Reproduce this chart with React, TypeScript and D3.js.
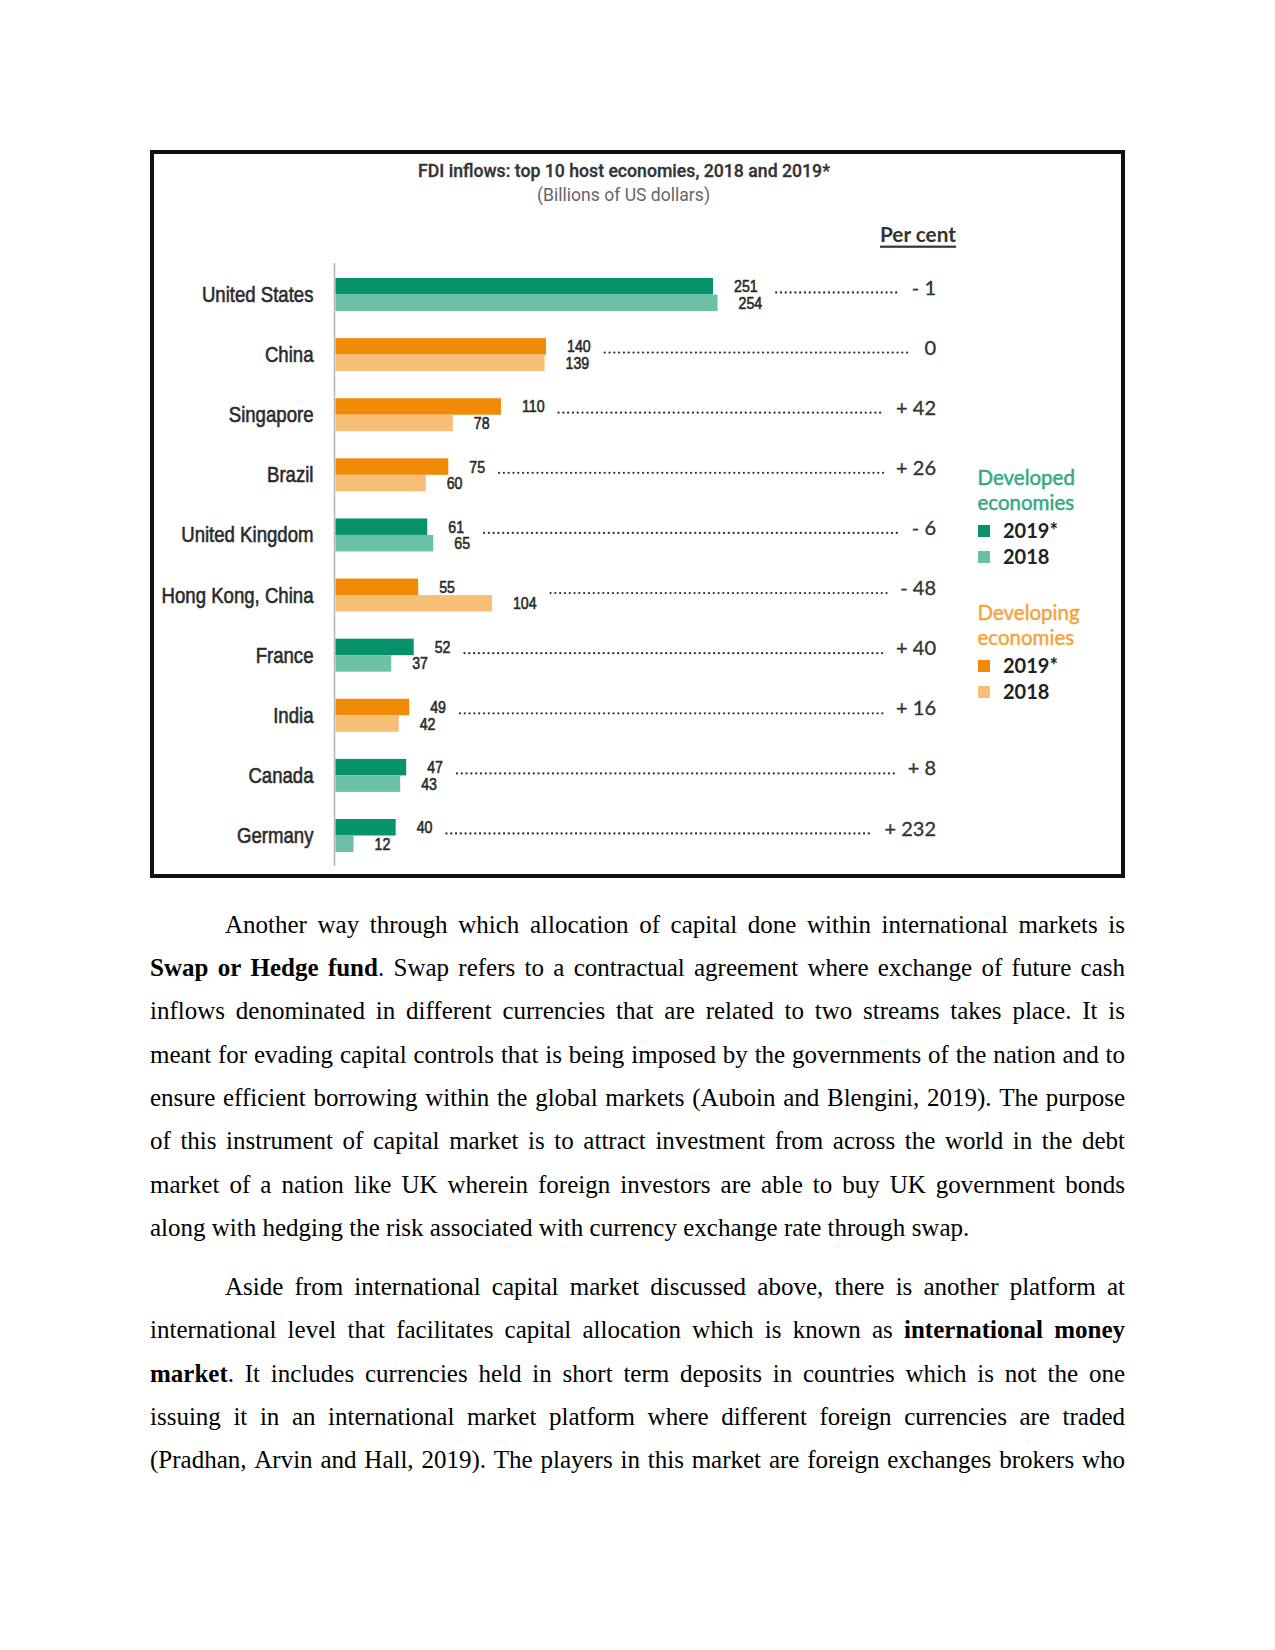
import React, { useEffect, useRef } from "react";
import * as d3 from "d3";

// ---------- data ----------
const countries = [
  "United States",
  "China",
  "Singapore",
  "Brazil",
  "United Kingdom",
  "Hong Kong, China",
  "France",
  "India",
  "Canada",
  "Germany",
];
const economyGroup = [
  "developed",
  "developing",
  "developing",
  "developing",
  "developed",
  "developing",
  "developed",
  "developing",
  "developed",
  "developed",
];
const fdi2019 = [251, 140, 110, 75, 61, 55, 52, 49, 47, 40];
const fdi2018 = [254, 139, 78, 60, 65, 104, 37, 42, 43, 12];
const pctChange = [-1, 0, 42, 26, -6, -48, 40, 16, 8, 232];

const chartTitle = "FDI inflows: top 10 host economies, 2018 and 2019*";
const chartSubtitle = "(Billions of US dollars)";
const pctHeader = "Per cent";

const legendGroups = ["developed", "developing"];
const legendTitles = [
  ["Developed", "economies"],
  ["Developing", "economies"],
];
const legendYears = ["2019*", "2018"];

const paragraph1 = [
  "Another way through which allocation of capital done within international markets is",
  "**Swap or Hedge fund**. Swap refers to a contractual agreement where exchange of future cash",
  "inflows denominated in different currencies that are related to two streams takes place. It is",
  "meant for evading capital controls that is being imposed by the governments of the nation and to",
  "ensure efficient borrowing within the global markets (Auboin and Blengini, 2019). The purpose",
  "of this instrument of capital market is to attract investment from across the world in the debt",
  "market of a nation like UK wherein foreign investors are able to buy UK government bonds",
  "along with hedging the risk associated with currency exchange rate through swap.",
];
const paragraph2 = [
  "Aside from international capital market discussed above, there is another platform at",
  "international level that facilitates capital allocation which is known as **international money**",
  "**market**. It includes currencies held in short term deposits in countries which is not the one",
  "issuing it in an international market platform where different foreign currencies are traded",
  "(Pradhan, Arvin and Hall, 2019). The players in this market are foreign exchanges brokers who",
];

// ---------- styles ----------
const colors: Record<string, string[]> = {
  developed: ["#08926b", "#6cc0a6"],
  developing: ["#f18b07", "#f7bf75"],
};
const legendTitleColors: Record<string, string> = {
  developed: "#36a883",
  developing: "#f3a53d",
};
const NARROW = "'Liberation Sans', Arial, sans-serif";
const CAL = "Lato, 'Open Sans', sans-serif";
const SERIF = "'Liberation Serif', 'Times New Roman', serif";

type Seg = { t: string; b: boolean };
function parseLine(s: string): Seg[][] {
  const words: Seg[][] = [];
  let cur: Seg[] = [];
  let buf = "";
  let bold = false;
  const flush = () => {
    if (buf) cur.push({ t: buf, b: bold });
    buf = "";
  };
  for (let i = 0; i < s.length; i++) {
    if (s.startsWith("**", i)) {
      flush();
      bold = !bold;
      i += 1;
      continue;
    }
    const ch = s[i];
    if (ch === " ") {
      flush();
      if (cur.length) words.push(cur);
      cur = [];
    } else buf += ch;
  }
  flush();
  if (cur.length) words.push(cur);
  return words;
}

export default function App() {
  const ref = useRef<SVGSVGElement>(null);

  useEffect(() => {
    const svg = d3.select(ref.current as SVGSVGElement);
    svg.selectAll("*").remove();

    svg.append("rect").attr("width", 1275).attr("height", 1650).attr("fill", "#fff");

    // frame
    svg
      .append("rect")
      .attr("x", 152)
      .attr("y", 152)
      .attr("width", 971)
      .attr("height", 724)
      .attr("fill", "none")
      .attr("stroke", "#111")
      .attr("stroke-width", 4);

    // titles
    svg
      .append("text")
      .attr("x", 624)
      .attr("y", 176.5)
      .attr("text-anchor", "middle")
      .attr("font-family", "Roboto, sans-serif")
      .attr("font-weight", 500)
      .attr("font-size", 17.5)
      .attr("fill", "#333")
      .attr("stroke", "#333")
      .attr("stroke-width", 0.3)
      .attr("textLength", 412)
      .attr("lengthAdjust", "spacingAndGlyphs")
      .text(chartTitle);
    svg
      .append("text")
      .attr("x", 623.5)
      .attr("y", 200.5)
      .attr("text-anchor", "middle")
      .attr("font-family", "Roboto, sans-serif")
      .attr("font-size", 17.5)
      .attr("fill", "#666")
      .attr("textLength", 173)
      .attr("lengthAdjust", "spacingAndGlyphs")
      .text(chartSubtitle);

    // Per cent header
    svg
      .append("text")
      .attr("x", 880)
      .attr("y", 242.3)
      .attr("font-family", CAL)
      .attr("font-weight", 700)
      .attr("font-size", 20.5)
      .attr("fill", "#333")
      .attr("textLength", 76)
      .attr("lengthAdjust", "spacingAndGlyphs")
      .text(pctHeader);
    svg
      .append("rect")
      .attr("x", 880)
      .attr("y", 245.6)
      .attr("width", 76)
      .attr("height", 2.2)
      .attr("fill", "#333");

    // scales
    const x = d3.scaleLinear().domain([0, 251]).range([335.5, 713]);
    const y = d3.scalePoint<string>().domain(countries).range([294.5, 835.5]);
    const barH = 16.5;

    const narrowText = (
      g: d3.Selection<any, any, any, any>,
      tx: number,
      ty: number,
      txt: string,
      size: number,
      anchor: string,
      sx: number
    ) => {
      const t = g
        .append("text")
        .attr("transform", `translate(${tx},${ty}) scale(${sx},1)`)
        .attr("text-anchor", anchor)
        .attr("font-family", NARROW)
        .attr("font-size", size)
        .attr("fill", "#2b2b2b")
        .attr("stroke", "#2b2b2b")
        .attr("stroke-width", 0.6)
        .text(txt);
      return (t.node() as SVGTextElement).getComputedTextLength() * sx;
    };

    const chart = svg.append("g");

    // axis line
    chart
      .append("line")
      .attr("x1", 334.5)
      .attr("x2", 334.5)
      .attr("y1", 263)
      .attr("y2", 866)
      .attr("stroke", "#b5b5b5")
      .attr("stroke-width", 1.5);

    const fmtPct = (v: number) => (v > 0 ? `+ ${v}` : v < 0 ? `- ${Math.abs(v)}` : "0");

    countries.forEach((c, i) => {
      const cy = y(c) as number;
      const [c19, c18] = colors[economyGroup[i]];
      chart
        .append("rect")
        .attr("x", x(0))
        .attr("y", cy - barH)
        .attr("width", x(fdi2019[i]) - x(0))
        .attr("height", barH)
        .attr("fill", c19);
      chart
        .append("rect")
        .attr("x", x(0))
        .attr("y", cy)
        .attr("width", x(fdi2018[i]) - x(0))
        .attr("height", barH)
        .attr("fill", c18);

      // country label
      narrowText(chart, 313.5, cy + 7.5, c, 21.5, "end", 0.865);

      // value labels
      const lx19 = x(fdi2019[i]) + 21;
      const lx18 = x(fdi2018[i]) + 21;
      const w19 = narrowText(chart, lx19, cy - barH / 2 + 6, String(fdi2019[i]), 16.5, "start", 0.86);
      const w18 = narrowText(chart, lx18, cy + barH / 2 + 6, String(fdi2018[i]), 16.5, "start", 0.86);
      const labelEnd = Math.max(lx19 + w19, lx18 + w18);

      // percent value
      const pt = chart
        .append("text")
        .attr("x", 936)
        .attr("y", cy)
        .attr("text-anchor", "end")
        .attr("font-family", CAL)
        .attr("font-size", 20)
        .attr("fill", "#333")
        .attr("stroke", "#333")
        .attr("stroke-width", 0.35)
        .text(fmtPct(pctChange[i]));
      const pw = (pt.node() as SVGTextElement).getComputedTextLength();

      // dotted leader
      chart
        .append("line")
        .attr("x1", labelEnd + 14)
        .attr("x2", 936 - pw - 13)
        .attr("y1", cy - 2)
        .attr("y2", cy - 2)
        .attr("stroke", "#333")
        .attr("stroke-width", 2.3)
        .attr("stroke-linecap", "round")
        .attr("stroke-dasharray", "0 4.8");
    });

    // legend
    const legend = svg.append("g");
    const legendTop = [485, 620];
    legendGroups.forEach((grp, gi) => {
      const base = legendTop[gi];
      legendTitles[gi].forEach((t, li) => {
        legend
          .append("text")
          .attr("x", 977.5)
          .attr("y", base + li * 24.5)
          .attr("font-family", CAL)
          .attr("font-size", 20.5)
          .attr("fill", legendTitleColors[grp])
          .attr("stroke", legendTitleColors[grp])
          .attr("stroke-width", 0.5)
          .text(t);
      });
      legendYears.forEach((yr, yi) => {
        const by = base + 52.5 + yi * 26;
        legend
          .append("rect")
          .attr("x", 978)
          .attr("y", by - 12.5)
          .attr("width", 12)
          .attr("height", 12)
          .attr("fill", colors[grp][yi]);
        legend
          .append("text")
          .attr("x", 1003)
          .attr("y", by)
          .attr("font-family", CAL)
          .attr("font-weight", 700)
          .attr("font-size", 20)
          .attr("fill", "#222")
          .text(yr);
      });
    });

    // body text (justified)
    const body = svg.append("g").attr("font-family", SERIF).attr("font-size", 25).attr("fill", "#000");
    const left = 150;
    const right = 1125;
    const lineH = 43.33;
    const drawPara = (lines: string[], y0: number, lastJustified: boolean) => {
      lines.forEach((line, li) => {
        const words = parseLine(line);
        const ly = y0 + li * lineH;
        const startX = li === 0 ? left + 75 : left;
        const nodes: { sel: any; w: number }[] = [];
        words.forEach((segs) => {
          const t = body.append("text").attr("y", ly);
          segs.forEach((s) => {
            t.append("tspan").attr("font-weight", s.b ? 700 : 400).text(s.t);
          });
          nodes.push({ sel: t, w: (t.node() as SVGTextElement).getComputedTextLength() });
        });
        const total = d3.sum(nodes, (n) => n.w);
        const isLast = li === lines.length - 1;
        const gap = isLast && !lastJustified ? 6.25 : (right - startX - total) / Math.max(1, nodes.length - 1);
        let cx = startX;
        nodes.forEach((n) => {
          n.sel.attr("x", cx);
          cx += n.w + gap;
        });
      });
    };
    drawPara(paragraph1, 932.7, false);
    drawPara(paragraph2, 1295, true);
  }, []);

  return (
    <svg
      ref={ref}
      width={1275}
      height={1650}
      style={{ position: "absolute", left: 0, top: 0, background: "#fff" }}
    />
  );
}
